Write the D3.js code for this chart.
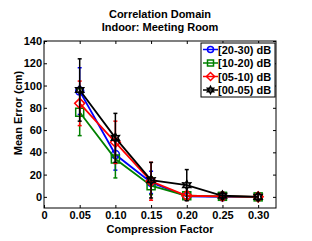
<!DOCTYPE html>
<html><head><meta charset="utf-8">
<script src="https://cdn.jsdelivr.net/npm/d3@7"></script>
<style>body{margin:0;background:#fff}svg{display:block}text{font-family:"Liberation Sans",Arial,sans-serif;font-weight:bold}</style>
</head><body><svg id="c" width="312" height="241"></svg>
<script>
const xVals = [0.05, 0.10, 0.15, 0.20, 0.25, 0.30];
const xTicks = [0, 0.05, 0.10, 0.15, 0.20, 0.25, 0.30];
const yTicks = [0, 20, 40, 60, 80, 100, 120, 140];
const seriesNames = ["[20-30) dB", "[10-20) dB", "[05-10) dB", "[00-05) dB"];
const seriesColors = ["#0000ff", "#008000", "#ff0000", "#000000"];
const seriesMarkers = ["circle", "square", "diamond", "star"];
const mean2030 = [95, 38, 13, 0.5, 0, 0];
const err2030 = [21, 14, 10, 3, 3, 3];
const mean1020 = [76, 34, 10, 1, 0.5, 0];
const err1020 = [21, 17, 8, 3, 3, 3];
const mean0510 = [84, 49, 14, 1, 0.5, 0];
const err0510 = [20, 19, 17, 4, 3, 3];
const mean0005 = [96, 53, 15, 10.5, 1, 0];
const err0005 = [28, 22, 16, 14, 3, 3];
const seriesMeans = [mean2030, mean1020, mean0510, mean0005];
const seriesErrs = [err2030, err1020, err0510, err0005];

const svg = d3.select("#c");
const L = 44, R = 276, T = 41, B = 208;
const x = d3.scaleLinear().domain([0, 0.325]).range([L, R]);
const y = d3.scaleLinear().domain([-10, 140]).range([B, T]);

svg.append("rect").attr("x", L).attr("y", T).attr("width", R - L).attr("height", B - T)
  .attr("fill", "none").attr("stroke", "#000").attr("stroke-width", 1);

const fmtX = d => d === 0 ? "0" : d3.format(".2f")(d);
const gx = svg.append("g").attr("transform", `translate(0,${B})`)
  .call(d3.axisBottom(x).tickValues(xTicks).tickFormat(fmtX).tickSize(-3).tickPadding(3));
const gxt = svg.append("g").attr("transform", `translate(0,${T})`)
  .call(d3.axisTop(x).tickValues(xTicks).tickFormat("").tickSize(-3));
const gy = svg.append("g").attr("transform", `translate(${L},0)`)
  .call(d3.axisLeft(y).tickValues(yTicks).tickSize(-3).tickPadding(2));
const gyr = svg.append("g").attr("transform", `translate(${R},0)`)
  .call(d3.axisRight(y).tickValues(yTicks).tickFormat("").tickSize(-3));
[gx, gxt, gy, gyr].forEach(g => {
  g.select(".domain").remove();
  g.selectAll("text").attr("font-size", 11).attr("font-weight", "bold").attr("fill", "#000")
    .attr("font-family", "Liberation Sans, Arial, sans-serif");
  g.selectAll("line").attr("stroke", "#000");
});

function marker(g, type, cx, cy, color, size) {
  if (type === "circle") {
    g.append("circle").attr("cx", cx).attr("cy", cy).attr("r", size / 2)
      .attr("fill", "none").attr("stroke", color).attr("stroke-width", 1.5);
  } else if (type === "square") {
    g.append("rect").attr("x", cx - size / 2).attr("y", cy - size / 2).attr("width", size).attr("height", size)
      .attr("fill", "none").attr("stroke", color).attr("stroke-width", 1.5);
  } else if (type === "diamond") {
    const s = size / 2 + 1;
    g.append("path").attr("d", `M${cx},${cy - s}L${cx + s},${cy}L${cx},${cy + s}L${cx - s},${cy}Z`)
      .attr("fill", "none").attr("stroke", color).attr("stroke-width", 1.5);
  } else {
    const ro = size / 2 + 0.5, ri = ro * 0.55;
    const pts = d3.range(12).map(k => {
      const a = -Math.PI / 2 + k * Math.PI / 6, r = k % 2 ? ri : ro;
      return [cx + r * Math.cos(a), cy + r * Math.sin(a)];
    });
    g.append("path").attr("d", "M" + pts.join("L") + "Z")
      .attr("fill", "none").attr("stroke", color).attr("stroke-width", 1.6);
  }
}

const line = d3.line().x((d, i) => x(xVals[i])).y(d => y(d));
seriesMeans.forEach((m, si) => {
  const g = svg.append("g");
  const c = seriesColors[si];
  const e = seriesErrs[si];
  xVals.forEach((xv, i) => {
    const px = x(xv);
    const y1 = y(m[i] + e[i]), y0 = y(m[i] - e[i]);
    g.append("line").attr("x1", px).attr("x2", px).attr("y1", y1).attr("y2", y0).attr("stroke", c).attr("stroke-width", 1.5);
    [y1, y0].forEach(yy => g.append("line").attr("x1", px - 2).attr("x2", px + 2).attr("y1", yy).attr("y2", yy).attr("stroke", c).attr("stroke-width", 1.5));
  });
  g.append("path").attr("d", line(m)).attr("fill", "none").attr("stroke", c).attr("stroke-width", 1.8);
  m.forEach((v, i) => marker(g, seriesMarkers[si], x(xVals[i]), y(v), c, 8));
});

const lg = svg.append("g");
lg.append("rect").attr("x", 201).attr("y", 43).attr("width", 74).attr("height", 54)
  .attr("fill", "#fff").attr("stroke", "#000").attr("stroke-width", 1);
seriesNames.forEach((n, i) => {
  const yy = 49.5 + i * 13.5;
  lg.append("line").attr("x1", 203).attr("x2", 218).attr("y1", yy).attr("y2", yy)
    .attr("stroke", seriesColors[i]).attr("stroke-width", 1.5);
  marker(lg, seriesMarkers[i], 210.5, yy, seriesColors[i], 6);
  lg.append("text").attr("x", 218).attr("y", yy + 4).attr("font-size", 11).text(n);
});

svg.append("text").attr("x", 160).attr("y", 18).attr("text-anchor", "middle").attr("font-size", 11).text("Correlation Domain");
svg.append("text").attr("x", 160).attr("y", 31).attr("text-anchor", "middle").attr("font-size", 11).text("Indoor: Meeting Room");
svg.append("text").attr("x", 160).attr("y", 233).attr("text-anchor", "middle").attr("font-size", 11).text("Compression Factor");
svg.append("text").attr("transform", "translate(22,113) rotate(-90)").attr("text-anchor", "middle").attr("font-size", 11).text("Mean Error (cm)");
</script></body></html>
